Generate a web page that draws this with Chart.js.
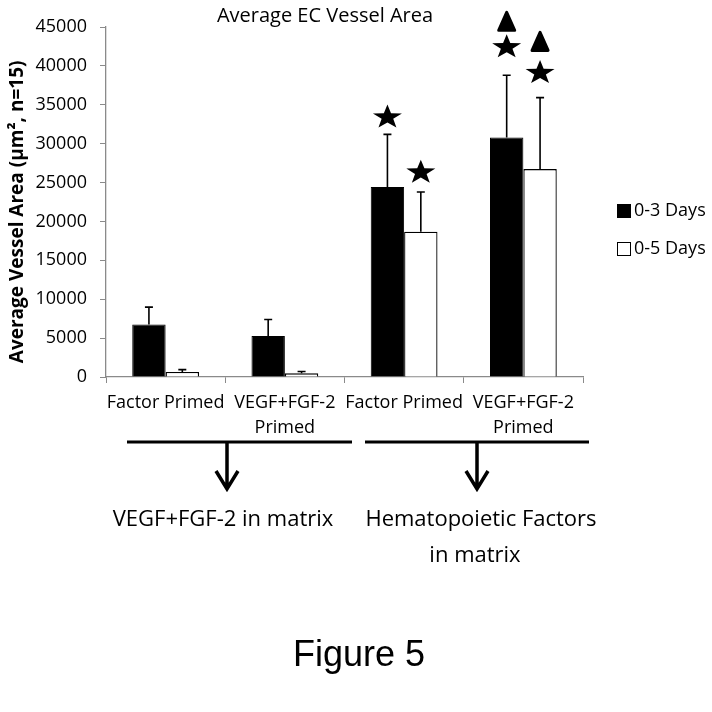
<!DOCTYPE html>
<html>
<head>
<meta charset="utf-8">
<script src="https://cdn.jsdelivr.net/npm/chart.js@4"></script>
<style>
  body { margin: 0; background: #fff; }
  #wrap { width: 712px; height: 712px; }
</style>
</head>
<body>
<div id="wrap"><canvas id="myChart" width="712" height="712"></canvas></div>
<script>
// data
var categorias = ['Factor Primed', ['VEGF+FGF-2', 'Primed'], 'Factor Primed', ['VEGF+FGF-2', 'Primed']]
var serieNomes = ['0-3 Days', '0-5 Days']
var dias3 = [6750, 5280, 24420, 30800]
var dias5 = [640, 470, 18690, 26730]
var erro3 = [2230, 2120, 6770, 7990]
var erro5 = [310, 230, 5090, 9190]
// significance marks (vertical position, in axis units)
var estrela3 = [null, null, 33390, 42420]
var estrela5 = [null, null, 26300, 39110]
var triang3 = [null, null, null, 45730]
var triang5 = [null, null, null, 43150]
var yTicks = [0, 5000, 10000, 15000, 20000, 25000, 30000, 35000, 40000, 45000]

var fonte = '"Open Sans", sans-serif'

function estrela(ctx, x, y, r){
    ctx.save()
    ctx.translate(x, y)
    ctx.scale(1.2, 1)
    ctx.beginPath()
    for (var k = 0; k < 10; k++) {
        var rr = k % 2 == 0 ? r : r * 0.4
        var a = -Math.PI / 2 + k * Math.PI / 5
        ctx.lineTo(rr * Math.cos(a), rr * Math.sin(a))
    }
    ctx.closePath()
    ctx.fillStyle = '#000'
    ctx.fill()
    ctx.restore()
}

function triangulo(ctx, x, y){
    ctx.save()
    ctx.beginPath()
    ctx.moveTo(x, y - 9)
    ctx.lineTo(x + 8, y + 9)
    ctx.lineTo(x - 8, y + 9)
    ctx.closePath()
    ctx.lineJoin = 'round'
    ctx.lineWidth = 3
    ctx.strokeStyle = '#000'
    ctx.fillStyle = '#000'
    ctx.fill()
    ctx.stroke()
    ctx.restore()
}

var extras = {
    id: 'extras',
    afterDatasetsDraw(chart){
        var ctx = chart.ctx
        var y = chart.scales.y
        var erros = [erro3, erro5]
        var marcas = [[estrela3, triang3], [estrela5, triang5]]
        chart.data.datasets.forEach(function(ds, d){
            var meta = chart.getDatasetMeta(d)
            meta.data.forEach(function(bar, i){
                var topo = y.getPixelForValue(ds.data[i] + erros[d][i])
                ctx.save()
                ctx.strokeStyle = '#000'
                ctx.lineWidth = 1.6
                ctx.beginPath()
                ctx.moveTo(bar.x, bar.y)
                ctx.lineTo(bar.x, topo)
                ctx.moveTo(bar.x - 4, topo)
                ctx.lineTo(bar.x + 4, topo)
                ctx.stroke()
                ctx.restore()
                if (marcas[d][0][i] != null) estrela(ctx, bar.x, y.getPixelForValue(marcas[d][0][i]), 12.7)
                if (marcas[d][1][i] != null) triangulo(ctx, bar.x, y.getPixelForValue(marcas[d][1][i]))
            })
        })

        ctx.save()
        ctx.fillStyle = '#000'
        ctx.textBaseline = 'middle'
        // title
        ctx.font = '20px ' + fonte
        ctx.textAlign = 'center'
        ctx.fillText('Average EC Vessel Area', 325, 16)
        // legend
        ctx.textAlign = 'left'
        ctx.font = '18px ' + fonte
        chart.data.datasets.forEach(function(ds, d){
            var ly = 211 + d * 38
            ctx.fillStyle = ds.backgroundColor
            ctx.fillRect(617, ly - 7, 14, 14)
            ctx.strokeStyle = '#000'
            ctx.lineWidth = 1
            ctx.strokeRect(617.5, ly - 6.5, 13, 13)
            ctx.fillStyle = '#000'
            ctx.fillText(ds.label, 634, ly)
        })
        // brackets and arrows under the axis
        ctx.strokeStyle = '#000'
        ctx.lineWidth = 3
        ctx.beginPath()
        ctx.moveTo(127, 442); ctx.lineTo(352, 442)
        ctx.moveTo(365, 442); ctx.lineTo(589, 442)
        ctx.stroke()
        ;[227, 477].forEach(function(ax){
            ctx.lineWidth = 3.5
            ctx.beginPath()
            ctx.moveTo(ax, 442); ctx.lineTo(ax, 488)
            ctx.moveTo(ax - 11, 471); ctx.lineTo(ax, 489); ctx.lineTo(ax + 11, 471)
            ctx.stroke()
        })
        ctx.font = '22px ' + fonte
        ctx.textAlign = 'center'
        ctx.fillText('VEGF+FGF-2 in matrix', 223, 520)
        ctx.fillText('Hematopoietic Factors', 481, 520)
        ctx.fillText('in matrix', 475, 556)
        ctx.font = '36px "Liberation Sans", Arial, sans-serif'
        ctx.fillText('Figure 5', 359, 656)
        ctx.restore()
    }
}

const ctx = document.getElementById('myChart')
new Chart(ctx, {
    type: 'bar',
    data: {
        labels: categorias,
        datasets: [{
            label: serieNomes[0],
            data: dias3,
            backgroundColor: '#000000',
            borderColor: '#000000',
            borderWidth: 1
        }, {
            label: serieNomes[1],
            data: dias5,
            backgroundColor: '#ffffff',
            borderColor: '#000000',
            borderWidth: 1.3
        }]
    },
    options: {
        responsive: false,
        animation: false,
        layout: { padding: { left: 0, right: 129, top: 27, bottom: 0 } },
        datasets: { bar: { categoryPercentage: 0.56, barPercentage: 1.0 } },
        plugins: { legend: { display: false }, title: { display: false }, tooltip: { enabled: false } },
        scales: {
            x: {
                afterFit: function(s){ s.height = 335 },
                grid: { drawOnChartArea: false, drawTicks: true, tickLength: 6, color: '#8a8a8a', offset: true },
                border: { color: '#8a8a8a', width: 1.3 },
                ticks: { color: '#000', font: { family: fonte, size: 18, lineHeight: 1.4 }, padding: 7, maxRotation: 0, autoSkip: false }
            },
            y: {
                min: 0,
                max: 45000,
                afterFit: function(s){ s.width = 106 },
                afterBuildTicks: function(s){ s.ticks = yTicks.map(v => ({ value: v })) },
                grid: { drawOnChartArea: false, drawTicks: true, tickLength: 6, color: '#8a8a8a' },
                border: { color: '#8a8a8a', width: 1.3 },
                ticks: { color: '#000', font: { family: fonte, size: 18 }, padding: 13, callback: v => String(v) },
                title: {
                    display: true,
                    text: 'Average Vessel Area (µm², n=15)    ',
                    color: '#000',
                    font: { family: fonte, size: 19, weight: 'bold' },
                    padding: { top: 6, bottom: 0 }
                }
            }
        }
    },
    plugins: [extras]
})
</script>
</body>
</html>
